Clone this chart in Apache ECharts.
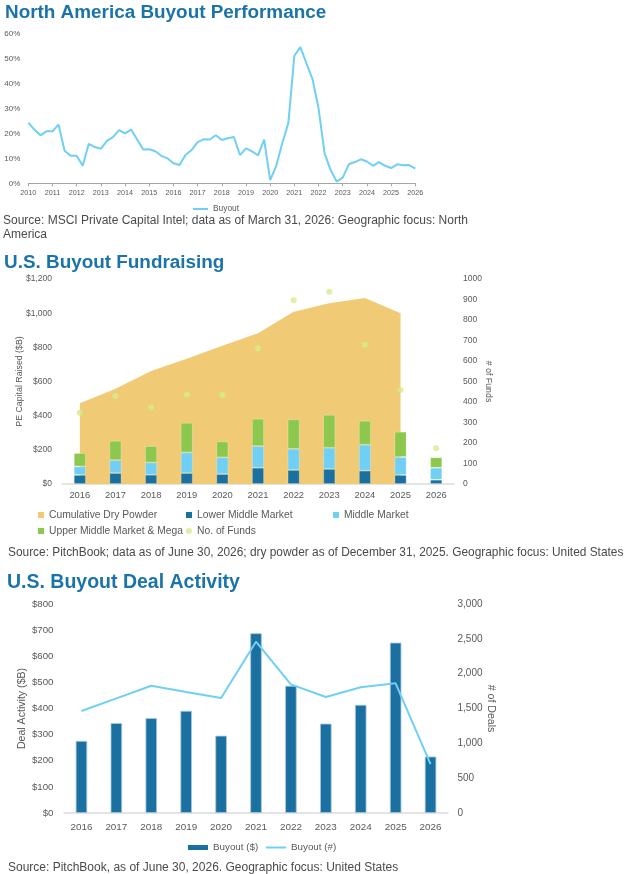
<!DOCTYPE html>
<html><head><meta charset="utf-8">
<script src="https://cdn.jsdelivr.net/npm/echarts@6/dist/echarts.min.js"></script>
<style>html,body{margin:0;padding:0;background:#fff}#c{width:631px;height:874px}</style>
</head><body><div id="c"></div>
<script>
// ---------- Chart 1: North America Buyout Performance (quarterly) ----------
const perfQuarters = [
 '2010Q1','2010Q2','2010Q3','2010Q4','2011Q1','2011Q2','2011Q3','2011Q4',
 '2012Q1','2012Q2','2012Q3','2012Q4','2013Q1','2013Q2','2013Q3','2013Q4',
 '2014Q1','2014Q2','2014Q3','2014Q4','2015Q1','2015Q2','2015Q3','2015Q4',
 '2016Q1','2016Q2','2016Q3','2016Q4','2017Q1','2017Q2','2017Q3','2017Q4',
 '2018Q1','2018Q2','2018Q3','2018Q4','2019Q1','2019Q2','2019Q3','2019Q4',
 '2020Q1','2020Q2','2020Q3','2020Q4','2021Q1','2021Q2','2021Q3','2021Q4',
 '2022Q1','2022Q2','2022Q3','2022Q4','2023Q1','2023Q2','2023Q3','2023Q4',
 '2024Q1','2024Q2','2024Q3','2024Q4','2025Q1','2025Q2','2025Q3','2025Q4',
 '2026Q1'];
const buyoutReturns = [
 24.3,21.5,19.2,20.8, 20.8,23.5,13.0,11.0, 11.0,7.0,15.8,14.5, 13.8,17.0,18.5,21.3,
 20.0,21.5,17.5,13.5, 13.6,12.8,11.0,10.0, 8.0,7.3,11.3,13.3, 16.5,17.6,17.5,19.2,
 17.3,18.0,18.5,11.3, 14.0,12.8,11.2,17.5, 1.3,7.0,16.0,24.0, 51.0,54.5,48.0,41.7,
 30.0,12.0,5.3,0.7, 2.3,7.6,8.5,9.6, 8.7,7.0,8.5,7.0, 6.1,7.6,7.2,7.3, 5.9];

// ---------- Chart 2: U.S. Buyout Fundraising ----------
const fundYears = ['2016','2017','2018','2019','2020','2021','2022','2023','2024','2025','2026'];
const dryPowder   = [473, 557, 662, 733, 809, 883, 1008, 1058, 1089, 1000, null];
const lowerMiddle = [53, 64, 54, 64, 58, 95, 82, 88, 78, 53, 25];
const middleMkt   = [50, 76, 72, 121, 98, 127, 124, 124, 152, 105, 70];
const upperMega   = [78, 113, 96, 173, 93, 160, 172, 193, 140, 148, 61];
const numFunds    = [347, 429, 373, 437, 434, 661, 896, 938, 679, 458, 174];

// ---------- Chart 3: U.S. Buyout Deal Activity ----------
const dealYears  = ['2016','2017','2018','2019','2020','2021','2022','2023','2024','2025','2026'];
const dealValue  = [276, 344, 363, 391, 296, 688, 487, 342, 414, 652, 216];
const dealCount  = [1464, 1646, 1827, 1737, 1650, 2459, 1847, 1665, 1804, 1861, 703];

// ---------- fonts ----------
const cv = document.createElement('canvas').getContext('2d');
function tw(text, size, weight, fam){ cv.font = (weight||'normal')+' '+size+'px '+fam; return cv.measureText(text).width; }
function has(f){ const s='abcdefghijklmnopqrstuvwxyz ABCDEFGHIJ 0123456789';
  return Math.abs(tw(s,20,'normal',"'"+f+"', monospace") - tw(s,20,'normal','monospace'))>0.5; }
const FAM = has('Liberation Sans Narrow') ? "'Liberation Sans Narrow'" :
            (has('Arial Narrow') ? "'Arial Narrow'" : "'Liberation Sans'");
function fit(text, target, weight){ return Math.round(20*target/tw(text,20,weight||'normal',FAM)*10)/10; }

const TITLE = '#1b74a9', LBL = '#595959', SRC = '#4a4a4a';
const LBLUE = '#6fcff5', DBLUE = '#1a70a0', GREEN = '#8cc74e', GOLD = '#f0ca74', LGREEN = '#d5ee8c';

const t1 = fit('North America Buyout Performance', 322, 'bold');
const t2 = fit('U.S. Buyout Fundraising', 221, 'bold');
const t3 = fit('U.S. Buyout Deal Activity', 233, 'bold');
const s1 = fit('Source: MSCI Private Capital Intel; data as of March 31, 2026: Geographic focus: North', 465);
const s2 = fit('Source: PitchBook; data as of June 30, 2026; dry powder as of December 31, 2025. Geographic focus: United States', 617);
const s3 = fit('Source: PitchBook, as of June 30, 2026. Geographic focus: United States', 390);
const f1 = fit('2010', 16), f1y = fit('60%', 16), f1l = fit('Buyout', 26);
const f2x = fit('2016', 21), f2y = fit('$1,200', 26), f2r = fit('1000', 19), f2n = fit('PE Capital Raised ($B)', 90), f2l = fit('Upper Middle Market & Mega', 134);
const f3x = fit('2016', 22), f3y = fit('$800', 21.6), f3r = fit('3,000', 25), f3n = fit('Deal Activity ($B)', 81), f3l = fit('Buyout ($)', 45);

function ts(size, color, extra){ return Object.assign({fontSize:size, color:color||LBL, fontFamily:FAM}, extra||{}); }
function titleAt(text, left, cy, size){ return {text:text, left:left, top:cy-size*0.45, padding:0, textStyle:ts(size, TITLE, {fontWeight:'bold'})}; }
function leg(items, left, top, w, h, size, extra){
  return Object.assign({data:items, left:left, top:top, padding:0, itemWidth:w, itemHeight:h,
    itemStyle:{borderWidth:0}, textStyle:ts(size)}, extra||{});
}

const option = {
  animation:false,
  backgroundColor:'#ffffff',
  textStyle:{fontFamily:FAM},
  title:[
    titleAt('North America Buyout Performance', 5, 12, t1),
    titleAt('U.S. Buyout Fundraising', 4, 262, t2),
    titleAt('U.S. Buyout Deal Activity', 7, 581, t3),
    {text:'Source: MSCI Private Capital Intel; data as of March 31, 2026: Geographic focus: North\nAmerica',
     left:3, top:214, padding:0, textStyle:ts(s1, SRC, {fontWeight:'normal', lineHeight:14})},
    {text:'Source: PitchBook; data as of June 30, 2026; dry powder as of December 31, 2025. Geographic focus: United States',
     left:8, top:545.5, padding:0, textStyle:ts(s2, SRC, {fontWeight:'normal', lineHeight:14})},
    {text:'Source: PitchBook, as of June 30, 2026. Geographic focus: United States',
     left:8, top:860.5, padding:0, textStyle:ts(s3, SRC, {fontWeight:'normal', lineHeight:14})}
  ],
  legend:[
    leg([{name:'Buyout', icon:'rect'}], 193, 205, 15, 2, f1l),
    leg([{name:'Cumulative Dry Powder', icon:'rect'}], 38, 510, 6, 6, f2l),
    leg([{name:'Lower Middle Market', icon:'rect'}], 186, 510, 6, 6, f2l),
    leg([{name:'Middle Market', icon:'rect'}], 333, 510, 6, 6, f2l),
    leg([{name:'Upper Middle Market & Mega', icon:'rect'}], 38, 526, 6, 6, f2l),
    leg([{name:'No. of Funds', icon:'circle'}], 186, 526, 6, 6, f2l),
    leg([{name:'Buyout ($)', icon:'rect'}], 188, 842.5, 20, 5, f3l),
    leg([{name:'Buyout (#)', icon:'rect'}], 266, 842.5, 20, 2, f3l)
  ],
  grid:[
    {left:28.3, right:215.7, top:33.3, bottom:690.7},
    {left:62, right:177, top:279, bottom:390},
    {left:64, right:183, top:604, bottom:61}
  ],
  xAxis:[
    {gridIndex:0, type:'category', data:perfQuarters, boundaryGap:false,
     axisLine:{lineStyle:{color:'#a6a6a6', width:1}},
     axisTick:{interval:3, length:3, lineStyle:{color:'#a6a6a6'}},
     axisLabel:{interval:3, margin:6, formatter:function(v){return v.slice(0,4);}, fontSize:f1, color:LBL, fontFamily:FAM}},
    {gridIndex:1, type:'category', data:fundYears,
     axisLine:{lineStyle:{color:'#dcdcdc', width:1.5}}, axisTick:{show:false},
     axisLabel:{margin:7, fontSize:f2x, color:LBL, fontFamily:FAM}},
    {gridIndex:2, type:'category', data:dealYears,
     axisLine:{lineStyle:{color:'#dcdcdc', width:1.5}}, axisTick:{show:false},
     axisLabel:{margin:9, fontSize:f3x, color:LBL, fontFamily:FAM}}
  ],
  yAxis:[
    {gridIndex:0, type:'value', min:0, max:60, interval:10, splitLine:{show:false},
     axisLabel:{formatter:'{value}%', margin:8, fontSize:f1y, color:LBL, fontFamily:FAM}},
    {gridIndex:1, type:'value', min:0, max:1200, interval:200, splitLine:{show:false},
     name:'PE Capital Raised ($B)', nameLocation:'middle', nameGap:38, nameRotate:90, nameMoveOverlap:false,
     nameTextStyle:ts(f2n),
     axisLabel:{formatter:function(v){return '$'+v.toLocaleString('en-US');}, margin:10, fontSize:f2y, color:LBL, fontFamily:FAM}},
    {gridIndex:1, type:'value', position:'right', min:0, max:1000, interval:100, splitLine:{show:false},
     name:'# of Funds', nameLocation:'middle', nameGap:30, nameRotate:-90, nameMoveOverlap:false,
     nameTextStyle:ts(f2n),
     axisLabel:{formatter:function(v){return String(v);}, margin:9, fontSize:f2r, color:LBL, fontFamily:FAM}},
    {gridIndex:2, type:'value', min:0, max:800, interval:100, splitLine:{show:false},
     name:'Deal Activity ($B)', nameLocation:'middle', nameGap:36, nameRotate:90, nameMoveOverlap:false,
     nameTextStyle:ts(f3n),
     axisLabel:{formatter:function(v){return '$'+v;}, margin:10.5, fontSize:f3y, color:LBL, fontFamily:FAM}},
    {gridIndex:2, type:'value', position:'right', min:0, max:3000, interval:500, splitLine:{show:false},
     name:'# of Deals', nameLocation:'middle', nameGap:37, nameRotate:-90, nameMoveOverlap:false,
     nameTextStyle:ts(f3n),
     axisLabel:{formatter:function(v){return v.toLocaleString('en-US');}, margin:9.5, fontSize:f3r, color:LBL, fontFamily:FAM}}
  ],
  series:[
    {name:'Buyout', type:'line', xAxisIndex:0, yAxisIndex:0, data:buyoutReturns, symbol:'none',
     lineStyle:{color:LBLUE, width:2}, itemStyle:{color:LBLUE}},
    {name:'Cumulative Dry Powder', type:'line', xAxisIndex:1, yAxisIndex:1, data:dryPowder, symbol:'none', z:1,
     lineStyle:{width:0, color:GOLD}, areaStyle:{color:GOLD, opacity:1}, itemStyle:{color:GOLD}},
    {name:'Lower Middle Market', type:'bar', stack:'f', xAxisIndex:1, yAxisIndex:1, data:lowerMiddle, barWidth:12, z:3,
     itemStyle:{color:DBLUE, borderColor:'rgba(255,255,255,0.35)', borderWidth:0.8}},
    {name:'Middle Market', type:'bar', stack:'f', xAxisIndex:1, yAxisIndex:1, data:middleMkt, barWidth:12, z:3,
     itemStyle:{color:LBLUE, borderColor:'rgba(255,255,255,0.35)', borderWidth:0.8}},
    {name:'Upper Middle Market & Mega', type:'bar', stack:'f', xAxisIndex:1, yAxisIndex:1, data:upperMega, barWidth:12, z:3,
     itemStyle:{color:GREEN, borderColor:'rgba(255,255,255,0.35)', borderWidth:0.8}},
    {name:'No. of Funds', type:'scatter', xAxisIndex:1, yAxisIndex:2, data:numFunds, symbolSize:6, z:4,
     itemStyle:{color:LGREEN}},
    {name:'Buyout ($)', type:'bar', xAxisIndex:2, yAxisIndex:3, data:dealValue, barWidth:11.5,
     itemStyle:{color:DBLUE, borderColor:'#a8c7dc', borderWidth:0.8}},
    {name:'Buyout (#)', type:'line', xAxisIndex:2, yAxisIndex:4, data:dealCount, symbol:'none',
     lineStyle:{color:LBLUE, width:2}, itemStyle:{color:LBLUE}}
  ]
};
const chart = echarts.init(document.getElementById('c'), null, {renderer:'canvas'});
chart.setOption(option);
</script>
</body></html>
